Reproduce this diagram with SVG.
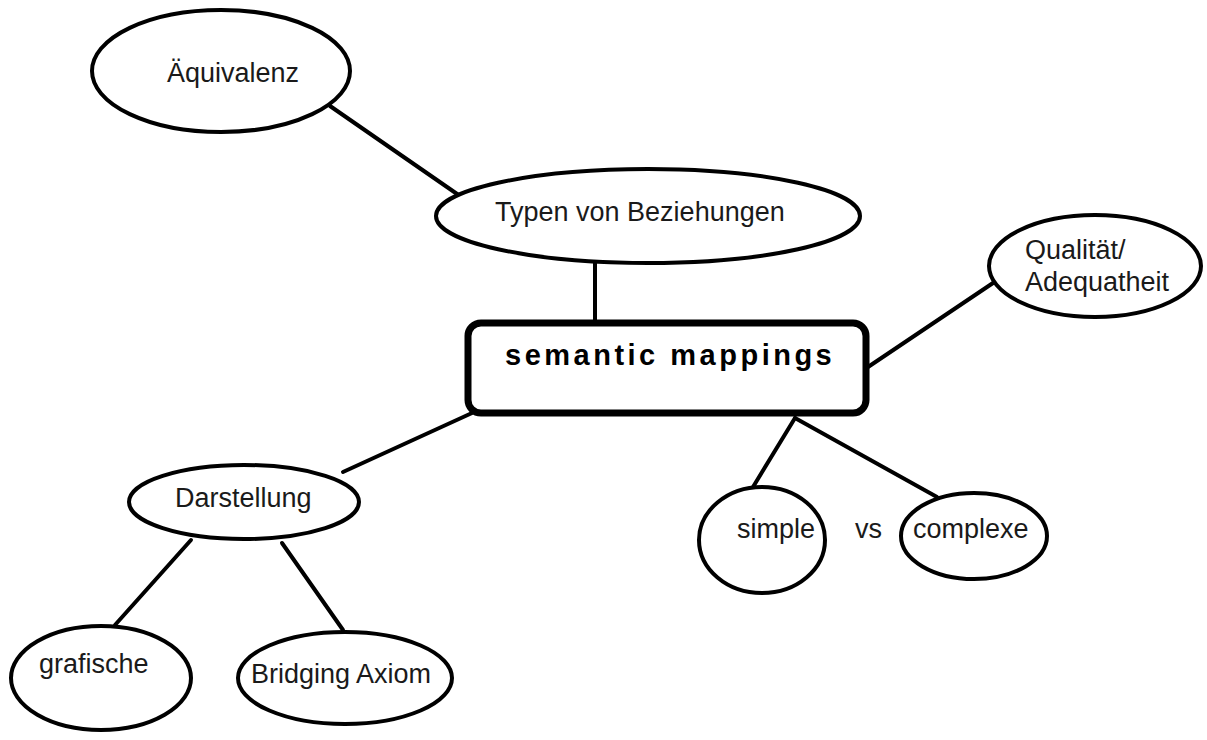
<svg xmlns="http://www.w3.org/2000/svg" width="1207" height="740" viewBox="0 0 1207 740">
<style>
.n{fill:#fff;stroke:#000;stroke-width:4}
.t{font-family:"Liberation Sans",Arial,sans-serif;font-size:27px;fill:#1a1a1a}
.b{font-family:"Liberation Sans",Arial,sans-serif;font-size:29px;font-weight:bold;letter-spacing:3.5px;fill:#000}
.c line{stroke:#000;stroke-width:4;stroke-linecap:round}
</style>
<rect width="1207" height="740" fill="#fff"/>
<g class="c" id="connectors">
<line x1="330" y1="106" x2="460" y2="196"/>
<line x1="595" y1="262" x2="595" y2="324"/>
<line x1="868" y1="367" x2="993" y2="283"/>
<line x1="795" y1="418" x2="753" y2="487"/>
<line x1="795" y1="418" x2="937" y2="497"/>
<line x1="472" y1="413" x2="343" y2="472"/>
<line x1="191" y1="540" x2="115" y2="625"/>
<line x1="282" y1="543" x2="343" y2="630"/>
</g>
<g id="aequivalenz"><ellipse class="n" cx="221" cy="71" rx="129" ry="61"/><text class="t" x="167" y="82">Äquivalenz</text></g>
<g id="typen"><ellipse class="n" cx="648" cy="216" rx="212" ry="47"/><text class="t" x="495" y="221">Typen von Beziehungen</text></g>
<g id="semantic"><rect x="468" y="323" width="398" height="90" rx="13" fill="#fff" stroke="#000" stroke-width="7"/><text class="b" x="505" y="365">semantic mappings</text></g>
<g id="qualitaet"><ellipse class="n" cx="1095" cy="266" rx="106" ry="51"/><text class="t" x="1025" y="259">Qualität/</text><text class="t" x="1025" y="291">Adequatheit</text></g>
<g id="simple"><ellipse class="n" cx="762" cy="540" rx="63" ry="53"/><text class="t" x="737" y="538">simple</text></g>
<g id="vs"><text class="t" x="855" y="538">vs</text></g>
<g id="complexe"><ellipse class="n" cx="974" cy="536" rx="73" ry="43"/><text class="t" x="913" y="538">complexe</text></g>
<g id="darstellung"><ellipse class="n" cx="244" cy="502" rx="115" ry="37"/><text class="t" x="175" y="507">Darstellung</text></g>
<g id="grafische"><ellipse class="n" cx="101" cy="678" rx="90" ry="52"/><text class="t" x="39" y="673">grafische</text></g>
<g id="bridging"><ellipse class="n" cx="345" cy="678" rx="107" ry="46"/><text class="t" x="251" y="683">Bridging Axiom</text></g>
</svg>
